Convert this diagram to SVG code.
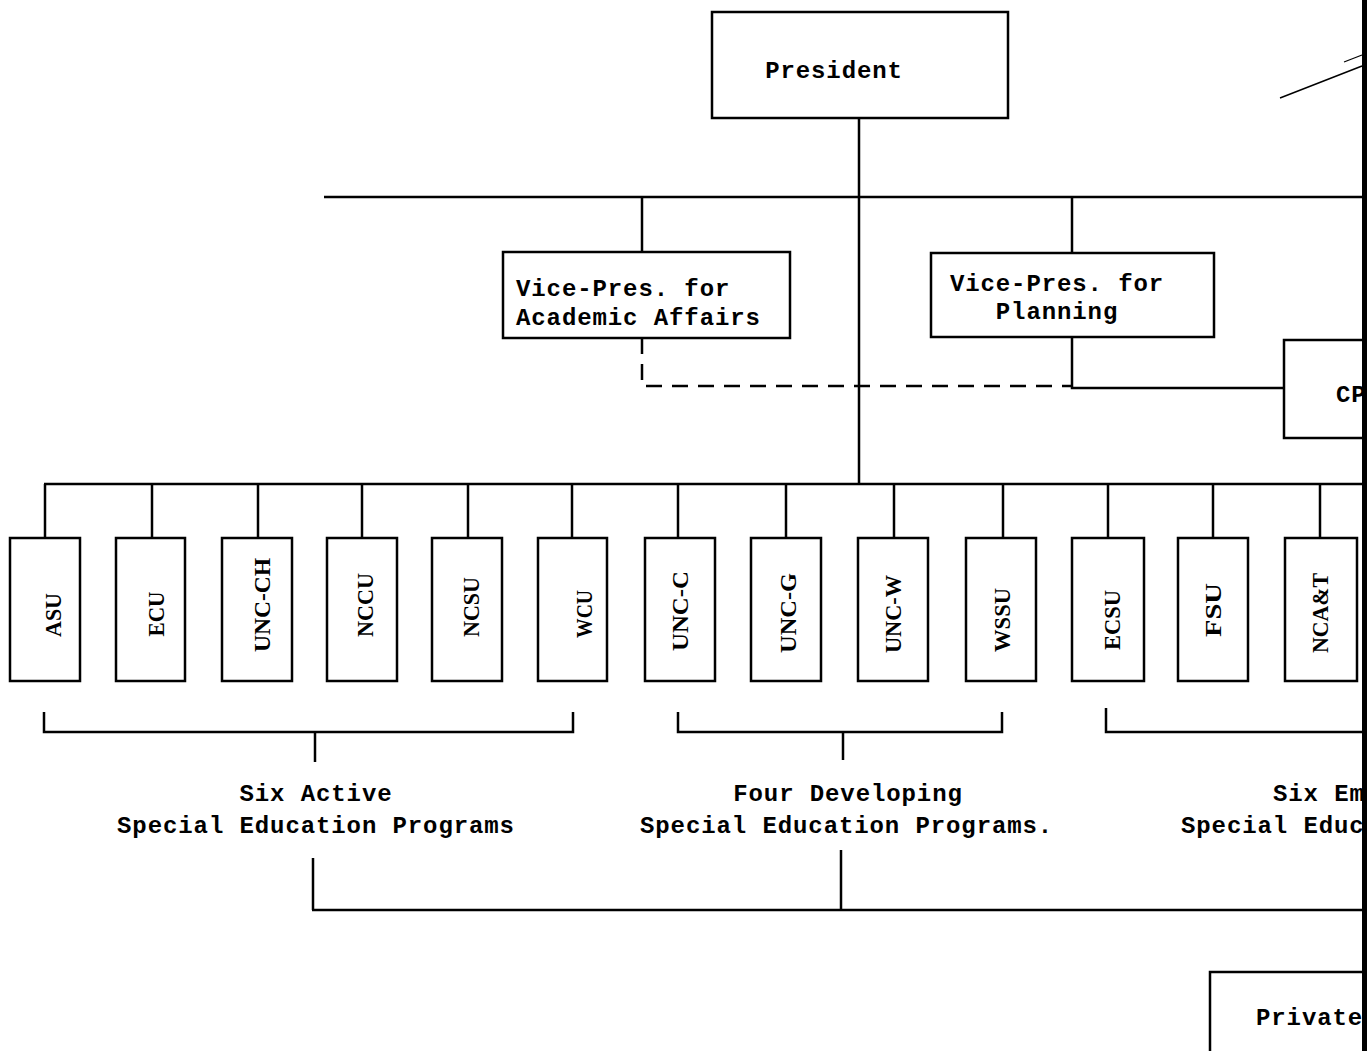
<svg xmlns="http://www.w3.org/2000/svg" width="1367" height="1051" viewBox="0 0 1367 1051">
<style>
  .bx { fill: #fff; stroke: #000; stroke-width: 2.5; }
  .ln { fill: none; stroke: #000; stroke-width: 2.5; }
  .ds { fill: none; stroke: #000; stroke-width: 2.5; stroke-dasharray: 16 10; }
  .t { font-family: "Liberation Mono", "DejaVu Sans Mono", monospace; font-size: 24px; font-weight: bold; letter-spacing: 0.9px; fill: #000; }
  .v { font-family: "Liberation Serif", "DejaVu Serif", serif; font-size: 23px; font-weight: bold; fill: #000; text-anchor: middle; }
</style>
<rect width="1367" height="1051" fill="#fff"/>

<g id="connectors">
  <line class="ln" x1="859" y1="118" x2="859" y2="484"/>
  <line class="ln" x1="324" y1="197" x2="1362" y2="197"/>
  <line class="ln" x1="642" y1="197" x2="642" y2="252"/>
  <line class="ln" x1="1072" y1="197" x2="1072" y2="253"/>
  <polyline class="ds" points="642,338 642,386 1072,386"/>
  <polyline class="ln" points="1072,337 1072,388 1284,388"/>
  <line class="ln" x1="44" y1="484" x2="1362" y2="484"/>
  <line class="ln" x1="45" y1="484" x2="45" y2="538"/>
  <line class="ln" x1="152" y1="484" x2="152" y2="538"/>
  <line class="ln" x1="258" y1="484" x2="258" y2="538"/>
  <line class="ln" x1="362" y1="484" x2="362" y2="538"/>
  <line class="ln" x1="468" y1="484" x2="468" y2="538"/>
  <line class="ln" x1="572" y1="484" x2="572" y2="538"/>
  <line class="ln" x1="678" y1="484" x2="678" y2="538"/>
  <line class="ln" x1="786" y1="484" x2="786" y2="538"/>
  <line class="ln" x1="894" y1="484" x2="894" y2="538"/>
  <line class="ln" x1="1003" y1="484" x2="1003" y2="538"/>
  <line class="ln" x1="1108" y1="484" x2="1108" y2="538"/>
  <line class="ln" x1="1213" y1="484" x2="1213" y2="538"/>
  <line class="ln" x1="1320" y1="484" x2="1320" y2="538"/>
  <polyline class="ln" points="44,712 44,732 573,732 573,712"/>
  <line class="ln" x1="315" y1="732" x2="315" y2="762"/>
  <polyline class="ln" points="678,712 678,732 1002,732 1002,712"/>
  <line class="ln" x1="843" y1="732" x2="843" y2="760"/>
  <polyline class="ln" points="1106,708 1106,732 1362,732"/>
  <line class="ln" x1="313" y1="858" x2="313" y2="910"/>
  <line class="ln" x1="841" y1="850" x2="841" y2="910"/>
  <line class="ln" x1="312" y1="910" x2="1362" y2="910"/>
  <line x1="1280" y1="98" x2="1362" y2="66" stroke="#000" stroke-width="1.5"/>
  <line x1="1344" y1="62" x2="1362" y2="55" stroke="#000" stroke-width="1.2"/>
</g>

<g id="president">
  <rect class="bx" x="712" y="12" width="296" height="106"/>
  <text class="t" x="834" y="78" text-anchor="middle">President</text>
</g>
<g id="vp-academic">
  <rect class="bx" x="503" y="252" width="287" height="86"/>
  <text class="t" x="516" y="296">Vice-Pres. for</text>
  <text class="t" x="516" y="325">Academic Affairs</text>
</g>
<g id="vp-planning">
  <rect class="bx" x="931" y="253" width="283" height="84"/>
  <text class="t" x="1057" y="291" text-anchor="middle">Vice-Pres. for</text>
  <text class="t" x="1057" y="319" text-anchor="middle">Planning</text>
</g>
<g id="cp">
  <rect class="bx" x="1284" y="340" width="100" height="98"/>
  <text class="t" x="1336" y="402">CP</text>
</g>

<g id="asu"><rect class="bx" x="10" y="538" width="70" height="143"/><text class="v" transform="translate(61,615) rotate(-90)" textLength="44" lengthAdjust="spacingAndGlyphs">ASU</text></g>
<g id="ecu"><rect class="bx" x="116" y="538" width="69" height="143"/><text class="v" transform="translate(164,614) rotate(-90)" textLength="45" lengthAdjust="spacingAndGlyphs">ECU</text></g>
<g id="unc-ch"><rect class="bx" x="222" y="538" width="70" height="143"/><text class="v" transform="translate(270,605) rotate(-90)" textLength="94" lengthAdjust="spacingAndGlyphs">UNC-CH</text></g>
<g id="nccu"><rect class="bx" x="327" y="538" width="70" height="143"/><text class="v" transform="translate(373,605) rotate(-90)" textLength="64" lengthAdjust="spacingAndGlyphs">NCCU</text></g>
<g id="ncsu"><rect class="bx" x="432" y="538" width="70" height="143"/><text class="v" transform="translate(479,607) rotate(-90)" textLength="60" lengthAdjust="spacingAndGlyphs">NCSU</text></g>
<g id="wcu"><rect class="bx" x="538" y="538" width="69" height="143"/><text class="v" transform="translate(592,614) rotate(-90)" textLength="48" lengthAdjust="spacingAndGlyphs">WCU</text></g>
<g id="unc-c"><rect class="bx" x="645" y="538" width="70" height="143"/><text class="v" transform="translate(688,611) rotate(-90)" textLength="80" lengthAdjust="spacingAndGlyphs">UNC-C</text></g>
<g id="unc-g"><rect class="bx" x="751" y="538" width="70" height="143"/><text class="v" transform="translate(796,613) rotate(-90)" textLength="80" lengthAdjust="spacingAndGlyphs">UNC-G</text></g>
<g id="unc-w"><rect class="bx" x="858" y="538" width="70" height="143"/><text class="v" transform="translate(901,614) rotate(-90)" textLength="78" lengthAdjust="spacingAndGlyphs">UNC-W</text></g>
<g id="wssu"><rect class="bx" x="966" y="538" width="70" height="143"/><text class="v" transform="translate(1010,620) rotate(-90)" textLength="64" lengthAdjust="spacingAndGlyphs">WSSU</text></g>
<g id="ecsu"><rect class="bx" x="1072" y="538" width="72" height="143"/><text class="v" transform="translate(1120,620) rotate(-90)" textLength="60" lengthAdjust="spacingAndGlyphs">ECSU</text></g>
<g id="fsu"><rect class="bx" x="1178" y="538" width="70" height="143"/><text class="v" transform="translate(1221,610) rotate(-90)" textLength="54" lengthAdjust="spacingAndGlyphs">FSU</text></g>
<g id="ncat"><rect class="bx" x="1285" y="538" width="72" height="143"/><text class="v" transform="translate(1328,613) rotate(-90)" textLength="80" lengthAdjust="spacingAndGlyphs">NCA&amp;T</text></g>

<g id="label-active">
  <text class="t" x="316" y="801" text-anchor="middle">Six Active</text>
  <text class="t" x="316" y="833" text-anchor="middle">Special Education Programs</text>
</g>
<g id="label-developing">
  <text class="t" x="848" y="801" text-anchor="middle">Four Developing</text>
  <text class="t" x="640" y="833">Special Education Programs.</text>
</g>
<g id="label-emerging">
  <text class="t" x="1273" y="801">Six Em</text>
  <text class="t" x="1181" y="833">Special Educ</text>
</g>
<g id="private">
  <rect class="bx" x="1210" y="972" width="180" height="100"/>
  <text class="t" x="1256" y="1025">Private</text>
</g>
<rect x="1362" y="0" width="5" height="1051" fill="#000"/>
</svg>
